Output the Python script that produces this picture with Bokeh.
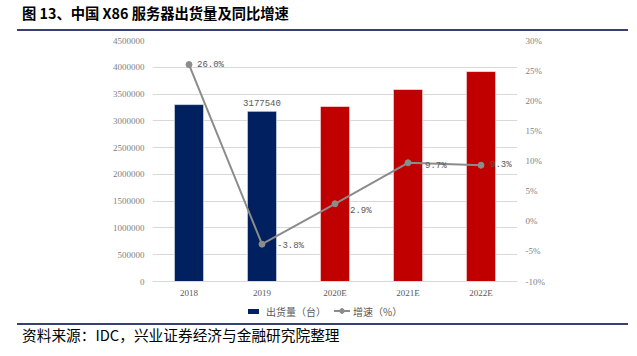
from bokeh.plotting import figure
from bokeh.models import (Range1d, LinearAxis, FactorRange, Div, Spacer,
                          ColumnDataSource, CustomJSTickFormatter, FixedTicker, LabelSet)
from bokeh.layouts import column, row
from bokeh.core.properties import value
from bokeh.embed import file_html
from bokeh.resources import INLINE

years = ["2018", "2019", "2020E", "2021E", "2022E"]
shipments = [3303000, 3177540, 3269700, 3586800, 3920400]
growth = [26.0, -3.8, 2.9, 9.7, 9.3]
growth_labels = ["26.0%", "-3.8%", "2.9%", "9.7%", "9.3%"]
bar_colors = ["#002060", "#002060", "#C00000", "#C00000", "#C00000"]
left_ticks = [0, 500000, 1000000, 1500000, 2000000, 2500000, 3000000, 3500000, 4000000, 4500000]
right_ticks = [-10, -5, 0, 5, 10, 15, 20, 25, 30]
legend_labels = ["出货量（台）", "增速（%）"]

title_text = "图 13、中国 X86 服务器出货量及同比增速"
source_text = "资料来源：IDC，兴业证券经济与金融研究院整理"

W = 630
serif = "Liberation Serif"
mono = "Liberation Mono"
cjk = "Noto Sans CJK SC"
grey_txt = "#595959"
tick_grey = "#7f7f7f"
rule_color = "#3a3f73"
navy = "#002060"
line_grey = "#8c8c8c"

title_div = Div(text=(
    f'<div style="padding-left:22px;font-family:\'{cjk}\';font-weight:bold;font-size:14.3px;'
    f'line-height:20px;padding-top:3px;color:#000;white-space:nowrap">{title_text}</div>'),
    width=W, height=29, margin=0)
rule_top = Spacer(width=611, height=2, margin=(0, 0, 0, 17),
                  styles={"background-color": rule_color})

p = figure(width=W, height=269, x_range=FactorRange(*years, range_padding=0),
           y_range=Range1d(0, 4500000), output_backend="svg", toolbar_location=None,
           min_border_left=152, min_border_right=113, min_border_top=9, min_border_bottom=19,
           margin=0)
p.extra_y_ranges = {"pct": Range1d(-10, 30)}
p.outline_line_color = None
p.xgrid.grid_line_color = None
p.ygrid.grid_line_color = "#d9d9d9"
p.ygrid.ticker = FixedTicker(ticks=left_ticks)

src = ColumnDataSource(dict(x=years, y=shipments, c=bar_colors, g=growth))

p.vbar(x="x", top="y", width=0.4, source=src, fill_color="c", line_color="white",
       line_alpha=0.6, line_width=1)
p.line(x="x", y="g", source=src, y_range_name="pct", line_color=line_grey, line_width=2)
p.scatter(x="x", y="g", source=src, y_range_name="pct", size=6, fill_color=line_grey,
          line_color=line_grey)

p.yaxis.ticker = FixedTicker(ticks=left_ticks)
p.yaxis.formatter = CustomJSTickFormatter(code="return tick.toFixed(0);")
ra = LinearAxis(y_range_name="pct", ticker=FixedTicker(ticks=right_ticks),
                formatter=CustomJSTickFormatter(code="return tick.toFixed(0) + '%';"))
p.add_layout(ra, "right")

for ax in [p.yaxis[0], ra]:
    ax.axis_line_color = None
    ax.major_tick_line_color = None
    ax.minor_tick_line_color = None
    ax.major_tick_out = 0
    ax.major_tick_in = 0
    ax.minor_tick_out = 0
    ax.minor_tick_in = 0
    ax.major_label_text_font = serif
    ax.major_label_text_font_size = "9px"
    ax.major_label_text_color = tick_grey
    ax.major_label_standoff = 8

xa = p.xaxis[0]
xa.axis_line_color = "#d9d9d9"
xa.major_tick_line_color = None
xa.minor_tick_line_color = None
xa.major_tick_out = 0
xa.major_tick_in = 0
xa.major_label_text_font = serif
xa.major_label_text_font_size = "9px"
xa.major_label_text_color = grey_txt
xa.major_label_standoff = 6

lab_src = ColumnDataSource(dict(x=years, g=growth, gl=growth_labels,
                                dx=[8, 15, 15, 17, 9], dy=[0, -2, -7, -3, 0]))
p.add_layout(LabelSet(x="x", y="g", text="gl", source=lab_src, y_range_name="pct",
                      x_offset="dx", y_offset="dy", text_font=value(mono),
                      text_font_size="9px", text_color=grey_txt, text_baseline="middle"))
bar_lab = ColumnDataSource(dict(x=[years[1]], y=[shipments[1]], t=[str(shipments[1])]))
p.add_layout(LabelSet(x="x", y="y", text="t", source=bar_lab, y_offset=5,
                      text_font=value(mono), text_font_size="9px",
                      text_color=grey_txt, text_align="center", text_baseline="bottom"))


def legend_text(t, w, left):
    return Div(text=(f'<div style="font-family:\'{cjk}\';font-size:10px;line-height:23px;'
                     f'color:{grey_txt};white-space:nowrap">{t}</div>'),
               width=w, height=23, margin=(0, 0, 0, left))


legend_row = row(
    Spacer(width=248, height=23, margin=0),
    Spacer(width=11, height=5, margin=(9, 0, 9, 0), styles={"background-color": navy}),
    legend_text(legend_labels[0], 62, 7),
    Spacer(width=16, height=6, margin=(8, 0, 9, 6),
           styles={"background": (f"radial-gradient(circle at 8px 3px, {line_grey} 2.5px, "
                                  f"transparent 3px), linear-gradient({line_grey}, {line_grey}) "
                                  f"0 2px / 16px 2px no-repeat")}),
    legend_text(legend_labels[1], 60, 3),
    spacing=0)

rule_bot = Spacer(width=611, height=2, margin=(0, 0, 0, 17),
                  styles={"background-color": rule_color})
source_div = Div(text=(
    f'<div style="padding-left:22px;font-family:\'{cjk}\';font-size:14.7px;'
    f'line-height:20px;color:#000;white-space:nowrap">{source_text}</div>'),
    width=W, height=22, margin=0)

layout = column(title_div, rule_top, p, legend_row, rule_bot, source_div, spacing=0)
open("out.html", "w").write(file_html(layout, INLINE))
